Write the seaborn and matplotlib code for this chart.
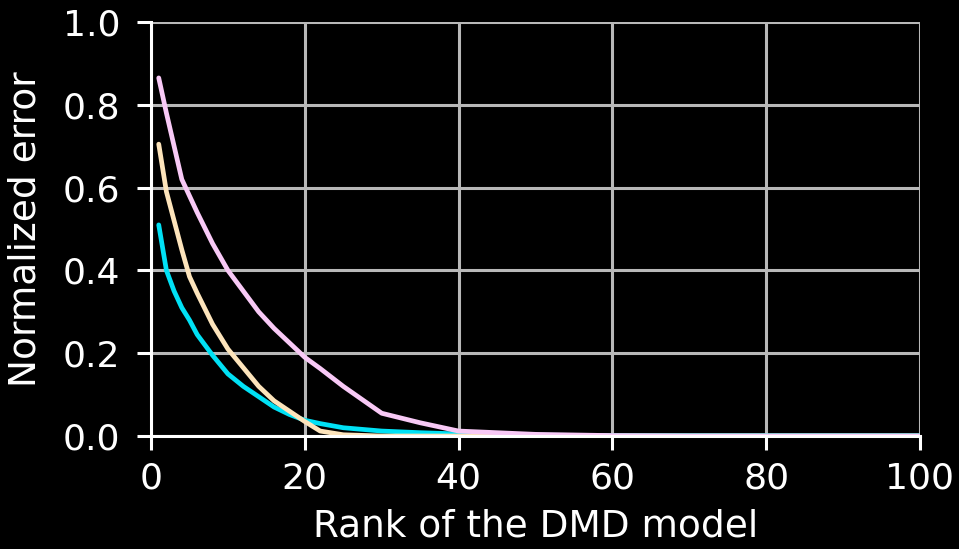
import matplotlib
matplotlib.use("Agg")
import matplotlib.pyplot as plt
import pandas as pd
import seaborn as sns

# Rank of the truncated DMD model
ranks = [1, 2, 3, 4, 5, 6, 8, 10, 12, 14, 16, 18, 20, 22, 25, 30, 35, 40, 50, 60, 70, 80, 90, 100]

# Normalized reconstruction error for the three signals
err_a = [0.51, 0.40, 0.35, 0.31, 0.28, 0.245, 0.195, 0.15, 0.12, 0.095, 0.07, 0.052,
         0.038, 0.030, 0.020, 0.012, 0.008, 0.005, 0.002, 0.001, 0.001, 0.001, 0.001, 0.001]
err_b = [0.705, 0.59, 0.52, 0.45, 0.385, 0.345, 0.27, 0.21, 0.165, 0.12, 0.085, 0.06,
         0.035, 0.012, 0.003, 0.0, 0.0, 0.0, 0.0, 0.0, 0.0, 0.0, 0.0, 0.0]
err_c = [0.865, 0.78, 0.70, 0.62, 0.58, 0.54, 0.465, 0.40, 0.35, 0.30, 0.26, 0.225,
         0.19, 0.163, 0.12, 0.055, 0.032, 0.012, 0.004, 0.001, 0.0, 0.0, 0.0, 0.0]

series_names = ["a", "b", "c"]
colors = ["#00e1f5", "#fde4bb", "#f8c9f6"]

df = pd.concat([
    pd.DataFrame({"rank": ranks, "error": vals, "series": name})
    for name, vals in zip(series_names, [err_a, err_b, err_c])
])

sns.set_theme(style="darkgrid")
plt.rcParams.update({
    "font.family": ["DejaVu Sans"],
    "figure.facecolor": "black",
    "axes.facecolor": "black",
    "axes.edgecolor": "white",
    "axes.labelcolor": "white",
    "xtick.color": "white",
    "ytick.color": "white",
    "text.color": "white",
    "grid.color": "#b8b8b8",
})

fig = plt.figure(figsize=(9.59, 5.49), dpi=100)
ax = fig.add_axes([0.1575, 0.2058, 0.8018, 0.7541])

sns.lineplot(data=df, x="rank", y="error", hue="series",
             palette=dict(zip(series_names, colors)), linewidth=3.4,
             legend=False, ax=ax, zorder=3)

ax.set_xlim(0, 100)
ax.set_ylim(0, 1.0)
ax.set_xticks([0, 20, 40, 60, 80, 100])
ax.set_yticks([0.0, 0.2, 0.4, 0.6, 0.8, 1.0])
ax.grid(True, color="#b8b8b8", linewidth=2.2)
ax.set_axisbelow(True)

for side in ["top", "right"]:
    ax.spines[side].set_visible(False)
for side in ["left", "bottom"]:
    ax.spines[side].set_color("white")
    ax.spines[side].set_linewidth(2.2)
    ax.spines[side].set_zorder(4)

ax.tick_params(axis="both", which="major", labelsize=26, length=10, width=2.2,
               direction="out", colors="white", bottom=True, left=True)
ax.tick_params(axis="y", pad=12)
ax.tick_params(axis="x", pad=8)
ax.set_xlabel("Rank of the DMD model", fontsize=27, color="white", labelpad=10)
ax.set_ylabel("Normalized error", fontsize=27, color="white", labelpad=14)

fig.savefig("out.png", dpi=100, facecolor="black")
